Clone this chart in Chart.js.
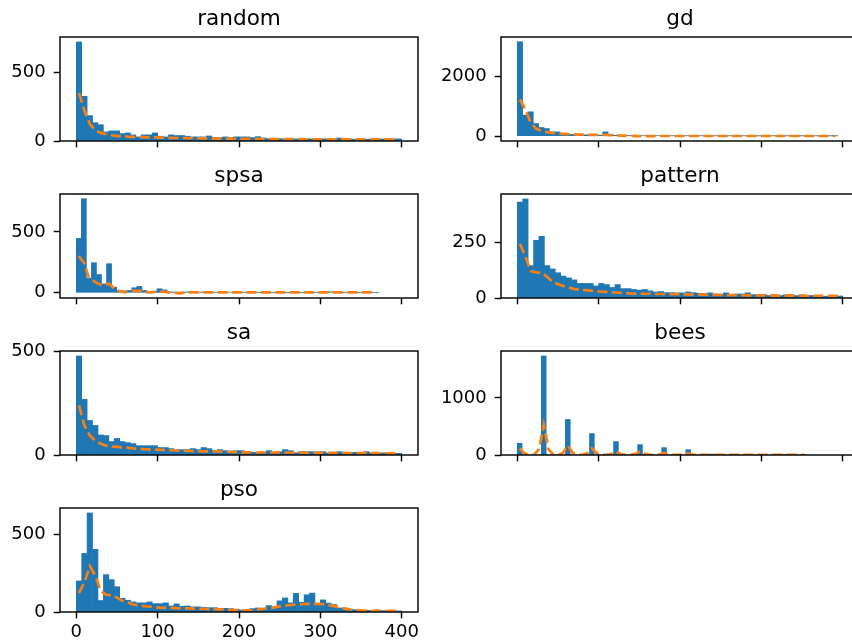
<!DOCTYPE html>
<html>
<head>
<meta charset="utf-8">
<script src="https://cdn.jsdelivr.net/npm/chart.js@4"></script>
<style>
  html, body { margin: 0; padding: 0; background: #fff; }
  body { width: 852px; height: 644px; overflow: hidden; position: relative; }
  .panel { position: absolute; }
</style>
</head>
<body>
<script>
// histogram counts (60 bins) and the smoothed curve
const randomRange = [0, 400];
const randomCounts = [
  725, 327, 186, 134, 119, 67, 74, 74, 54, 59,
  45, 30, 45, 45, 59, 35, 30, 45, 40, 40,
  35, 30, 30, 30, 37, 25, 25, 30, 25, 30,
  30, 30, 25, 32, 22, 17, 15, 17, 14, 16,
  15, 13, 17, 15, 14, 16, 15, 13, 22, 15,
  14, 12, 16, 13, 14, 12, 15, 13, 14, 15
];
const randomLine = [
  351, 223, 124, 79, 59, 50, 42, 37, 35, 32,
  30, 29, 28, 27, 26, 25, 24, 23, 22, 22,
  21, 20, 20, 19, 19, 18, 18, 17, 17, 16,
  16, 15, 15, 15, 14, 14, 14, 13, 13, 13,
  13, 13, 12, 12, 12, 12, 12, 12, 12, 12,
  12, 12, 12, 12, 12, 12, 12, 12, 12, 12
];
const randomTicks = [0, 500];

const gdRange = [0, 394];
const gdCounts = [
  3181, 708, 820, 427, 292, 258, 146, 146, 90, 67,
  56, 56, 45, 45, 45, 34, 146, 45, 30, 25,
  22, 20, 18, 18, 16, 15, 15, 14, 14, 13,
  13, 12, 12, 12, 12, 11, 11, 11, 11, 10,
  10, 10, 10, 10, 10, 10, 10, 10, 10, 9,
  9, 9, 9, 9, 9, 9, 9, 9, 9, 9
];
const gdLine = [
  1236, 910, 460, 258, 180, 135, 112, 90, 79, 67,
  60, 55, 50, 45, 42, 40, 42, 38, 30, 22,
  16, 10, 4, -3, 2, 5, 6, 6, 6, 6,
  6, 6, 6, 6, 6, 6, 6, 6, 6, 6,
  6, 6, 6, 6, 6, 6, 6, 6, 6, 6,
  6, 6, 6, 6, 6, 6, 6, 6, 6, 6
];
const gdTicks = [0, 2000];

const spsaRange = [0, 372];
const spsaCounts = [
  446, 772, 120, 247, 150, 73, 239, 46, 19, 16,
  19, 41, 52, 19, 11, 11, 33, 24, 8, 6,
  5, 6, 8, 10, 6, 5, 4, 4, 5, 4,
  4, 3, 4, 3, 3, 4, 3, 3, 3, 3,
  3, 3, 3, 3, 3, 3, 3, 3, 3, 3,
  8, 3, 3, 3, 3, 3, 3, 3, 3, 3
];
const spsaLine = [
  300, 250, 125, 95, 70, 62, 75, 35, 14, 6,
  8, 18, 16, 6, 3, 7, 13, 8, 2, 0,
  -4, 1, 3, 4, 4, 3, 3, 3, 3, 3,
  3, 3, 3, 3, 3, 3, 3, 3, 3, 3,
  3, 3, 3, 3, 3, 3, 3, 3, 3, 3,
  4, 3, 3, 3, 3, 3, 3, 3, 3, 3
];
const spsaTicks = [0, 500];

const patternRange = [0, 400];
const patternCounts = [
  429, 443, 145, 258, 276, 145, 130, 113, 98, 90,
  81, 65, 65, 65, 54, 65, 60, 47, 60, 42,
  42, 38, 35, 38, 32, 27, 29, 24, 24, 23,
  23, 27, 24, 21, 20, 23, 18, 15, 23, 15,
  18, 18, 23, 15, 14, 15, 11, 15, 11, 14,
  15, 11, 14, 11, 11, 9, 8, 8, 8, 9
];
const patternLine = [
  242, 185, 120, 114, 113, 95, 72, 62, 54, 47,
  40, 37, 35, 33, 31, 28, 27, 26, 24, 23,
  21, 20, 20, 19, 19, 18, 18, 17, 17, 17,
  16, 16, 15, 15, 15, 14, 14, 14, 13, 13,
  13, 13, 12, 12, 12, 12, 12, 11, 11, 11,
  11, 11, 10, 10, 10, 10, 10, 10, 10, 10
];
const patternTicks = [0, 250];

const saRange = [0, 400];
const saCounts = [
  479, 269, 167, 143, 97, 94, 65, 80, 65, 60,
  55, 45, 45, 45, 45, 36, 36, 31, 26, 26,
  26, 31, 26, 36, 31, 21, 26, 21, 18, 21,
  21, 16, 13, 13, 13, 21, 11, 16, 26, 21,
  11, 16, 16, 16, 15, 16, 10, 8, 16, 10,
  10, 13, 10, 16, 10, 8, 10, 8, 8, 8
];
const saLine = [
  240, 143, 94, 70, 54, 45, 41, 39, 37, 36,
  32, 30, 28, 27, 26, 25, 24, 23, 22, 21,
  20, 19, 19, 18, 18, 17, 17, 16, 15, 14,
  13, 13, 13, 12, 12, 12, 12, 12, 12, 12,
  11, 11, 11, 11, 10, 10, 10, 10, 10, 10,
  9, 9, 9, 9, 9, 9, 8, 8, 8, 8
];
const saTicks = [0, 500];

const beesRange = [0, 355];
const beesCounts = [
  206, 0, 0, 0, 0, 1735, 0, 0, 0, 0,
  623, 0, 0, 0, 0, 376, 0, 0, 0, 0,
  235, 0, 0, 0, 0, 182, 0, 0, 0, 0,
  129, 0, 0, 0, 0, 94, 0, 0, 0, 0,
  15, 0, 0, 0, 0, 10, 0, 0, 0, 0,
  6, 0, 0, 0, 0, 4, 0, 0, 0, 3
];
const beesLine = [
  115, 30, 3, 5, 100, 529, 100, 5, 3, 40,
  165, 40, 3, 3, 30, 118, 30, 2, 2, 18,
  59, 18, 2, 2, 20, 65, 20, 2, 2, 10,
  35, 10, 1, 1, 8, 29, 8, 1, 1, 3,
  6, 3, 1, 1, 2, 4, 2, 1, 1, 1,
  2, 1, 1, 1, 1, 1, 1, 1, 1, 1
];
const beesTicks = [0, 1000];

const psoRange = [0, 400];
const psoCounts = [
  200, 378, 639, 404, 74, 241, 209, 163, 89, 76,
  65, 59, 59, 65, 54, 54, 59, 39, 52, 37,
  39, 33, 33, 30, 28, 28, 24, 24, 22, 17,
  13, 17, 22, 26, 17, 41, 33, 72, 91, 59,
  120, 63, 111, 122, 54, 78, 57, 48, 26, 26,
  17, 15, 11, 11, 9, 13, 9, 9, 7, 7
];
const psoLine = [
  122, 191, 296, 235, 137, 111, 109, 93, 72, 61,
  48, 42, 38, 34, 31, 28, 27, 26, 25, 24,
  23, 22, 21, 20, 19, 18, 17, 16, 14, 12,
  11, 11, 13, 16, 21, 25, 30, 36, 41, 45,
  48, 50, 52, 52, 52, 50, 45, 38, 30, 22,
  16, 12, 10, 9, 8, 8, 7, 7, 7, 7
];
const psoTicks = [0, 500];

const xDataRange = [0, 400];
const xTicks = [0, 100, 200, 300, 400];

const blue = '#1f77b4';
const orange = '#ff7f0e';

Chart.defaults.font.family = 'DejaVu Sans';
Chart.defaults.color = '#000';

// layout of the 4x2 grid (the figure is cut at the right edge)
const colLeft = [60, 501];
const rowTop = [37, 194, 351, 508];
const axW = 358, axH = 104;
const yW = 60, titleH = 37, xH = 34, padR = 20;

const panels = [
  { name: 'random', counts: randomCounts, line: randomLine, range: randomRange, yTicks: randomTicks, col: 0, row: 0 },
  { name: 'gd', counts: gdCounts, line: gdLine, range: gdRange, yTicks: gdTicks, col: 1, row: 0 },
  { name: 'spsa', counts: spsaCounts, line: spsaLine, range: spsaRange, yTicks: spsaTicks, col: 0, row: 1 },
  { name: 'pattern', counts: patternCounts, line: patternLine, range: patternRange, yTicks: patternTicks, col: 1, row: 1 },
  { name: 'sa', counts: saCounts, line: saLine, range: saRange, yTicks: saTicks, col: 0, row: 2 },
  { name: 'bees', counts: beesCounts, line: beesLine, range: beesRange, yTicks: beesTicks, col: 1, row: 2 },
  { name: 'pso', counts: psoCounts, line: psoLine, range: psoRange, yTicks: psoTicks, col: 0, row: 3, xLabels: true }
];

// all four spines, drawn over the bars like matplotlib
const frame = {
  id: 'frame',
  afterDatasetsDraw(chart) {
    const { ctx, chartArea: a } = chart;
    ctx.save();
    ctx.strokeStyle = '#000';
    ctx.lineWidth = 1.44;
    ctx.strokeRect(a.left, a.top, a.right - a.left, a.bottom - a.top);
    ctx.restore();
  }
};

const xSpan = xDataRange[1] - xDataRange[0];
const xMin = xDataRange[0] - 0.05 * xSpan;
const xMax = xDataRange[1] + 0.05 * xSpan;

panels.forEach(p => {
  const n = p.counts.length;
  const w = (p.range[1] - p.range[0]) / n;
  const centers = p.counts.map((_, i) => p.range[0] + (i + 0.5) * w);

  // matplotlib style autoscale: 5% margin, stuck at 0 unless the curve dips below
  const lo = Math.min(0, ...p.line);
  const hi = Math.max(...p.counts, ...p.line);
  const span = hi - lo;
  const yMax = hi + 0.05 * span;
  const yMin = lo < 0 ? lo - 0.05 * span : 0;

  const div = document.createElement('div');
  div.className = 'panel';
  const cw = yW + axW + padR, ch = titleH + axH + xH;
  div.style.left = (colLeft[p.col] - yW) + 'px';
  div.style.top = (rowTop[p.row] - titleH) + 'px';
  div.style.width = cw + 'px';
  div.style.height = ch + 'px';
  const canvas = document.createElement('canvas');
  canvas.width = cw;
  canvas.height = ch;
  canvas.style.width = cw + 'px';
  canvas.style.height = ch + 'px';
  div.appendChild(canvas);
  document.body.appendChild(div);

  new Chart(canvas, {
    type: 'bar',
    data: {
      datasets: [
        {
          type: 'line',
          data: p.line.map((v, i) => ({ x: centers[i], y: v })),
          borderColor: orange,
          borderWidth: 2.7,
          borderDash: [10, 4.4],
          borderCapStyle: 'butt',
          pointRadius: 0,
          tension: 0,
          fill: false,
          order: 0
        },
        {
          type: 'bar',
          data: p.counts.map((v, i) => ({ x: centers[i], y: v })),
          backgroundColor: blue,
          borderWidth: 0,
          barPercentage: 1,
          categoryPercentage: 1,
          order: 1
        }
      ]
    },
    options: {
      responsive: false,
      animation: false,
      devicePixelRatio: 1,
      layout: { padding: { left: 0, top: 0, bottom: 0, right: padR } },
      plugins: {
        legend: { display: false },
        tooltip: { enabled: false },
        title: {
          display: true,
          text: p.name,
          fullSize: false,
          color: '#000',
          font: { size: 21.6, weight: 'normal', lineHeight: 1 },
          padding: { top: 8.7, bottom: 6.7 }
        }
      },
      scales: {
        x: {
          type: 'linear',
          min: xMin,
          max: xMax,
          offset: false,
          border: { display: false },
          grid: { display: true, drawOnChartArea: false, drawTicks: true, tickLength: 6.3, tickColor: '#000', tickWidth: 1.44, offset: false },
          ticks: { display: !!p.xLabels, color: '#000', font: { size: 18 }, padding: 3, maxRotation: 0, autoSkip: false, callback: v => String(v) },
          afterBuildTicks: s => { s.ticks = xTicks.map(v => ({ value: v })); },
          afterFit: s => { s.height = xH; }
        },
        y: {
          type: 'linear',
          min: yMin,
          max: yMax,
          border: { display: false },
          grid: { display: true, drawOnChartArea: false, drawTicks: true, tickLength: 6.3, tickColor: '#000', tickWidth: 1.44 },
          ticks: { color: '#000', font: { size: 18 }, padding: 8, autoSkip: false, callback: v => String(v) },
          afterBuildTicks: s => { s.ticks = p.yTicks.map(v => ({ value: v })); },
          afterFit: s => { s.width = yW; }
        }
      }
    },
    plugins: [frame]
  });
});
</script>
</body>
</html>
